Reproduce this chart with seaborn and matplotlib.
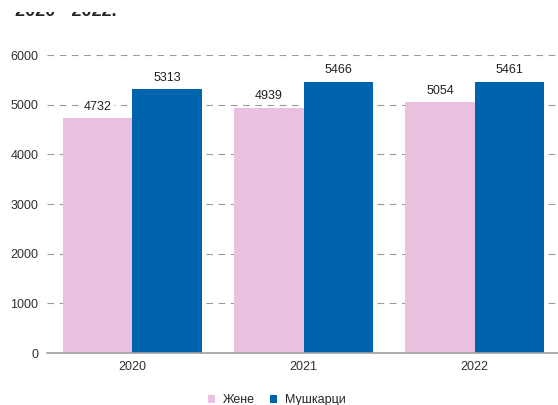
import matplotlib
matplotlib.use('Agg')
import matplotlib.pyplot as plt
import pandas as pd
import seaborn as sns
from matplotlib.patches import Rectangle

# values
years = ['2020', '2021', '2022']
women = [4732, 4939, 5054]
men = [5313, 5466, 5461]
series_names = ['Жене', 'Мушкарци']
colors = ['#EBC0DE', '#0063AE']
y_ticks = [0, 1000, 2000, 3000, 4000, 5000, 6000]

df = pd.DataFrame({
    'year': years * 2,
    'value': women + men,
    'sex': [series_names[0]] * 3 + [series_names[1]] * 3,
})

sns.set_style('white')
plt.rcParams['font.family'] = ['Liberation Sans', 'DejaVu Sans']

fig = plt.figure(figsize=(5.58, 4.05), dpi=100)
ax = fig.add_axes([0.084, 0.128, 0.92, 0.736])

sns.barplot(data=df, x='year', y='value', hue='sex', palette=colors,
            width=0.81, saturation=1, linewidth=0, ax=ax, zorder=2)

ax.set_ylim(0, 6000)
ax.set_xlim(-0.5, 2.5)
ax.set_yticks(y_ticks)
ax.yaxis.grid(True, linestyle=(0, (6, 5)), color='#9a9a9a', linewidth=0.8)
ax.set_axisbelow(True)
ax.set_xlabel('')
ax.set_ylabel('')
ax.tick_params(axis='both', length=0, labelsize=9, labelcolor='#303030', pad=6)

for s in ['top', 'right', 'left']:
    ax.spines[s].set_visible(False)
ax.spines['bottom'].set_color('#a0a0a0')
ax.spines['bottom'].set_linewidth(1.2)

for cont in ax.containers:
    ax.bar_label(cont, padding=4, fontsize=9, color='#202020',
                 bbox=dict(facecolor='white', edgecolor='none', pad=1.5))

leg = ax.legend(loc='upper center', bbox_to_anchor=(0.448, -0.1), ncol=2,
                frameon=False, fontsize=9, handlelength=0.6, handleheight=0.6,
                handletextpad=0.6, columnspacing=1.2)

# cut-off heading at the very top of the image
fig.text(0.027, 1 - 16 / 405, '2020 - 2022.', fontsize=13, fontweight='bold',
         va='baseline', ha='left')
fig.patches.append(Rectangle((0, 1 - 12 / 405), 1, 12 / 405, transform=fig.transFigure,
                             facecolor='white', edgecolor='none', zorder=10))

fig.savefig('out.png', dpi=100)
